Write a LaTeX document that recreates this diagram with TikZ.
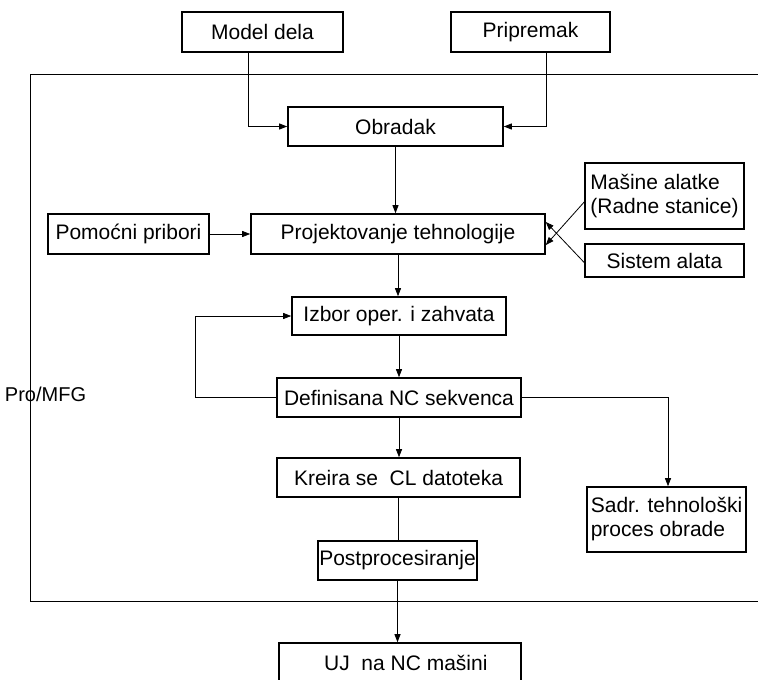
\documentclass[tikz,border=0pt]{standalone}
\usepackage{fontspec}
\setmainfont{Liberation Sans}
\usetikzlibrary{arrows.meta}

\begin{document}
\begin{tikzpicture}[x=1pt,y=1pt,yscale=-1,xscale=1,
  box/.style={draw,line width=1.6pt,inner sep=0.75pt,align=left,font=\fontsize{21}{24}\selectfont},
  arr/.style={-{Triangle[length=8pt,width=6pt]},line width=0.8pt},
  ln/.style={line width=0.8pt}]
\useasboundingbox (0,0) rectangle (758,680);

% Frame
\draw[ln] (758,74) -- (30,74) -- (30,601) -- (758,601) ;
\node (promfg) at (4,394) [anchor=west,inner sep=0.75pt,font=\fontsize{20}{24}\selectfont] {Pro/MFG};

% Text Node
\node (model) at (262.5,32) [box,minimum width=161,minimum height=40] {Model dela};
% Text Node
\node (prip) at (530.5,32) [box,minimum width=159,minimum height=40] {Pripremak};
% Text Node
\node (obr) at (395.5,126.5) [box,minimum width=215,minimum height=39] {Obradak};
% Text Node
\node (proj) at (398,234) [box,minimum width=294,minimum height=40] {Projektovanje tehnologije};
% Text Node
\node (pom) at (128.5,234) [box,minimum width=161,minimum height=40] {Pomoćni pribori};
% Text Node
\node (mas) at (664.5,196) [box,minimum width=159,minimum height=66] {Mašine alatke\\(Radne stanice)};
% Text Node
\node (sis) at (664.5,260.5) [box,minimum width=159,minimum height=33] {Sistem alata};
% Text Node
\node (izb) at (399,316) [box,minimum width=214,minimum height=38] {Izbor oper. i zahvata};
% Text Node
\node (def) at (399,397.5) [box,minimum width=244,minimum height=39] {Definisana NC sekvenca};
% Text Node
\node (kre) at (398.5,477.5) [box,minimum width=243,minimum height=39] {Kreira se\ \ CL datoteka};
% Text Node
\node (sadr) at (666.5,519.5) [box,minimum width=159,minimum height=65] {Sadr. tehnološki\\proces obrade};
% Text Node
\node (post) at (397.5,560.5) [box,minimum width=159,minimum height=39] {Postprocesiranje};
% Text Node
\node (uj) at (400,663) [box,minimum width=242,minimum height=40] {\ \ UJ\ \ na NC mašini};

%Connectors
\draw[arr] ([xshift=-14]model.south) |- (obr.west) ;
\draw[arr] ([xshift=16]prip.south) |- (obr.east) ;
\draw[arr] (obr.south) -- (obr.south |- proj.north) ;
\draw[arr] (pom.east) -- (proj.west) ;
\draw[arr] ([yshift=6]mas.west) -- ([yshift=11]proj.east) ;
\draw[arr] ([yshift=2]sis.west) -- ([yshift=-12]proj.east) ;
\draw[arr] (proj.south) -- (proj.south |- izb.north) ;
\draw[arr] (izb.south) -- (izb.south |- def.north) ;
\draw[arr] (def.west) -- ++(-81,0) |- (izb.west) ;
\draw[arr] (def.east) -| ([xshift=1.5]sadr.north) ;
\draw[arr] (def.south) -- (def.south |- kre.north) ;
\draw[ln] (kre.south) -- (kre.south |- post.north) ;
\draw[arr] (post.south) -- (post.south |- uj.north) ;

\end{tikzpicture}
\end{document}
